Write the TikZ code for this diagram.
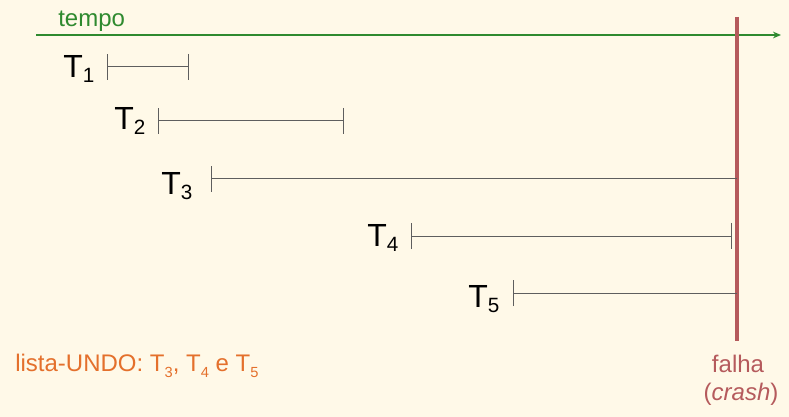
\documentclass[tikz,border=0pt]{standalone}
\usepackage{fontspec}
\setmainfont{Liberation Sans}
\usetikzlibrary{arrows.meta}
\definecolor{fundo}{HTML}{FFF9E8}
\definecolor{verde}{HTML}{2F8A2F}
\definecolor{laranja}{HTML}{E4702C}
\definecolor{tijolo}{HTML}{B55A5C}
\definecolor{cinza}{HTML}{5E5E5E}
\newcommand{\tn}[1]{T\raisebox{-3.75pt}{\fontsize{15.5}{15.5}\selectfont #1}}
\newcommand{\tl}[1]{T\raisebox{-4.5pt}{\fontsize{11}{11}\selectfont #1}}
\begin{document}
\begin{tikzpicture}[x=0.75pt,y=-0.75pt,
    rotulo/.style={anchor=base west,inner sep=0pt,font=\fontsize{24}{24}\selectfont},
    texto/.style={inner sep=0pt,font=\fontsize{18}{18}\selectfont},
    transacao/.style={draw=cinza,line width=0.75pt},
    ambas/.style={transacao,{Bar[width=19.5pt]}-{Bar[width=19.5pt]}},
    inicio/.style={transacao,{Bar[width=19.5pt]}-}]
    \fill[fundo] (0,0) rectangle (789,417);
    \useasboundingbox (0,0) rectangle (789,417);

    \coordinate (t0) at (36,35);
    \coordinate (t1) at (781,35);
    \draw[verde,line width=0.9pt,-{Stealth[length=6pt,width=5pt]}] (t0) -- (t1);
    \node[texto,anchor=base west,text=verde] (tempo) at (58,27) {tempo};

    \coordinate (f0) at (737,17);
    \coordinate (f1) at (737,341);
    \draw[tijolo,line width=3pt] (f0) -- (f1);
    \node[texto,anchor=base,text=tijolo] (falha) at (738,372) {falha};
    \node[texto,anchor=base,text=tijolo] (crash) at (741,400) {(\textit{crash})};

    \node[rotulo] (T1) at (63,78) {\tn{1}};
    \node[rotulo] (T2) at (114,130) {\tn{2}};
    \node[rotulo] (T3) at (161,195) {\tn{3}};
    \node[rotulo] (T4) at (367,247) {\tn{4}};
    \node[rotulo] (T5) at (468,307) {\tn{5}};

    \coordinate (i1) at (107,67);  \coordinate (e1) at (189,67);
    \coordinate (i2) at (158,121); \coordinate (e2) at (344,121);
    \coordinate (i3) at (211,179);
    \coordinate (i4) at (411,236); \coordinate (e4) at (732,236);
    \coordinate (i5) at (513,293);

    \draw[ambas] (i1) -- (e1);
    \draw[ambas] (i2) -- (e2);
    \draw[inicio] (i3) -- (i3 -| f0);
    \draw[ambas] (i4) -- (e4);
    \draw[inicio] (i5) -- (i5 -| f0);

    \node[texto,anchor=base west,text=laranja] (undo) at (15,371)
        {lista-UNDO: \tl{3}, \tl{4} e \tl{5}};
\end{tikzpicture}
\end{document}
